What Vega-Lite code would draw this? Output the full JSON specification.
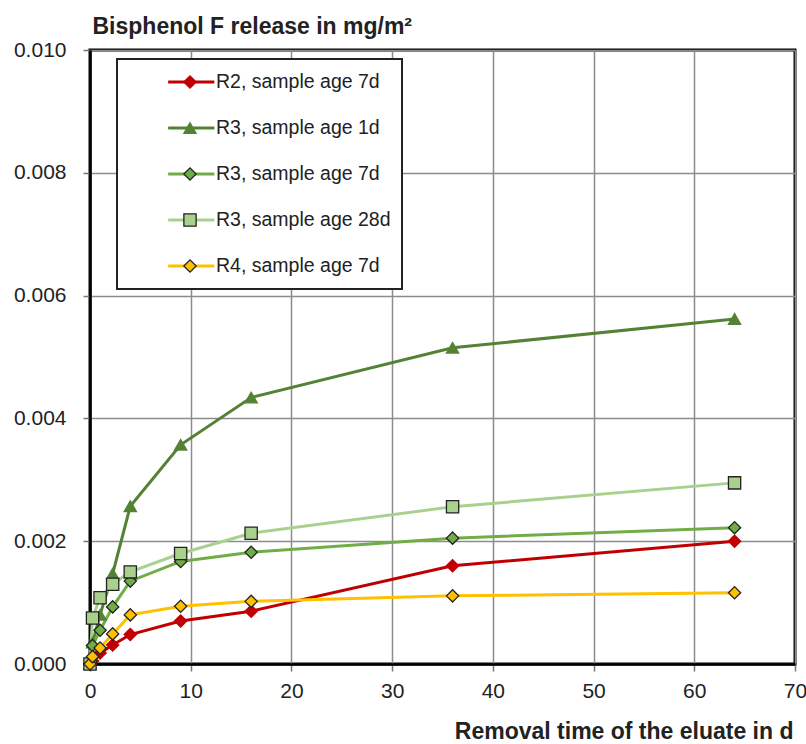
{
  "$schema": "https://vega.github.io/schema/vega-lite/v6.json",
  "width": 705,
  "height": 614,
  "autosize": {"type": "none"},
  "padding": {"left": 90, "top": 50, "right": 11, "bottom": 80},
  "background": "white",
  "config": {
    "font": "Liberation Sans",
    "view": {"stroke": "#000", "strokeWidth": 3},
    "axis": {
      "labelFont": "Liberation Sans",
      "labelFontSize": 21,
      "labelColor": "#222",
      "labelFlush": false,
      "gridColor": "#8c8c8c",
      "gridWidth": 1.5,
      "gridOpacity": 1,
      "domainColor": "#000",
      "domainWidth": 2.5,
      "tickColor": "#777",
      "tickSize": 7,
      "tickWidth": 1.5,
      "titleFont": "Liberation Sans",
      "titleFontSize": 23,
      "titleFontWeight": "bold",
      "titleColor": "#222"
    }
  },
  "data": {
    "values": [
      {"series": "R2, sample age 7d", "t": 0, "v": 0},
      {"series": "R2, sample age 7d", "t": 0.25, "v": 0.00005},
      {"series": "R2, sample age 7d", "t": 1, "v": 0.00018},
      {"series": "R2, sample age 7d", "t": 2.25, "v": 0.00031},
      {"series": "R2, sample age 7d", "t": 4, "v": 0.00048},
      {"series": "R2, sample age 7d", "t": 9, "v": 0.0007},
      {"series": "R2, sample age 7d", "t": 16, "v": 0.00086},
      {"series": "R2, sample age 7d", "t": 36, "v": 0.0016},
      {"series": "R2, sample age 7d", "t": 64, "v": 0.002},
      {"series": "R3, sample age 1d", "t": 0, "v": 0},
      {"series": "R3, sample age 1d", "t": 0.25, "v": 0.00035},
      {"series": "R3, sample age 1d", "t": 1, "v": 0.0008},
      {"series": "R3, sample age 1d", "t": 2.25, "v": 0.00147},
      {"series": "R3, sample age 1d", "t": 4, "v": 0.00257},
      {"series": "R3, sample age 1d", "t": 9, "v": 0.00357},
      {"series": "R3, sample age 1d", "t": 16, "v": 0.00434},
      {"series": "R3, sample age 1d", "t": 36, "v": 0.00515},
      {"series": "R3, sample age 1d", "t": 64, "v": 0.00562},
      {"series": "R3, sample age 7d", "t": 0, "v": 0},
      {"series": "R3, sample age 7d", "t": 0.25, "v": 0.0003},
      {"series": "R3, sample age 7d", "t": 1, "v": 0.00055},
      {"series": "R3, sample age 7d", "t": 2.25, "v": 0.00093},
      {"series": "R3, sample age 7d", "t": 4, "v": 0.00135},
      {"series": "R3, sample age 7d", "t": 9, "v": 0.00167},
      {"series": "R3, sample age 7d", "t": 16, "v": 0.00182},
      {"series": "R3, sample age 7d", "t": 36, "v": 0.00205},
      {"series": "R3, sample age 7d", "t": 64, "v": 0.00222},
      {"series": "R3, sample age 28d", "t": 0, "v": 0},
      {"series": "R3, sample age 28d", "t": 0.25, "v": 0.00075},
      {"series": "R3, sample age 28d", "t": 1, "v": 0.00108},
      {"series": "R3, sample age 28d", "t": 2.25, "v": 0.0013},
      {"series": "R3, sample age 28d", "t": 4, "v": 0.0015},
      {"series": "R3, sample age 28d", "t": 9, "v": 0.0018},
      {"series": "R3, sample age 28d", "t": 16, "v": 0.00213},
      {"series": "R3, sample age 28d", "t": 36, "v": 0.00256},
      {"series": "R3, sample age 28d", "t": 64, "v": 0.00295},
      {"series": "R4, sample age 7d", "t": 0, "v": 0},
      {"series": "R4, sample age 7d", "t": 0.25, "v": 0.00012},
      {"series": "R4, sample age 7d", "t": 1, "v": 0.00026},
      {"series": "R4, sample age 7d", "t": 2.25, "v": 0.00049},
      {"series": "R4, sample age 7d", "t": 4, "v": 0.0008},
      {"series": "R4, sample age 7d", "t": 9, "v": 0.00094},
      {"series": "R4, sample age 7d", "t": 16, "v": 0.00102},
      {"series": "R4, sample age 7d", "t": 36, "v": 0.00111},
      {"series": "R4, sample age 7d", "t": 64, "v": 0.00116}
    ]
  },
  "encoding": {
    "x": {
      "field": "t",
      "type": "quantitative",
      "scale": {"domain": [0, 70], "nice": false},
      "axis": {
        "values": [0, 10, 20, 30, 40, 50, 60, 70],
        "title": "Removal time of the eluate in d",
        "titleX": 703,
        "titleY": 74,
        "titleAlign": "right",
        "titleBaseline": "alphabetic",
        "labelPadding": 9,
        "grid": true
      }
    },
    "y": {
      "field": "v",
      "type": "quantitative",
      "scale": {"domain": [0, 0.01], "nice": false},
      "axis": {
        "values": [0, 0.002, 0.004, 0.006, 0.008, 0.01],
        "format": ".3f",
        "title": "Bisphenol F release in mg/m²",
        "titleAngle": 0,
        "titleX": 2,
        "titleY": -17,
        "titleAlign": "left",
        "titleBaseline": "alphabetic",
        "labelPadding": 17,
        "grid": true
      }
    }
  },
  "layer": [
    {
      "mark": {"type": "line", "strokeWidth": 3},
      "encoding": {
        "color": {
          "field": "series",
          "type": "nominal",
          "sort": ["R2, sample age 7d", "R3, sample age 1d", "R3, sample age 7d", "R3, sample age 28d", "R4, sample age 7d"],
          "scale": {"range": ["#c00000", "#548235", "#70ad47", "#a9d18e", "#ffc000"]},
          "legend": {
            "orient": "none",
            "legendX": 27,
            "legendY": 9,
            "direction": "vertical",
            "title": null,
            "symbolType": "M-3.3,0H3.3",
            "symbolSize": 196,
            "symbolStrokeWidth": 3,
            "symbolOffset": 53.5,
            "labelOffset": 15,
            "labelLimit": 400,
            "labelFont": "Liberation Sans",
            "labelFontSize": 19.5,
            "labelColor": "#222",
            "clipHeight": 24,
            "padding": 11,
            "rowPadding": 22,
            "fillColor": "white",
            "strokeColor": "#222",
            "zindex": 1,
            "encode": {"legend": {"update": {"strokeWidth": {"value": 2}}}}
          }
        }
      }
    },
    {
      "mark": {"type": "point", "filled": true, "size": 150, "strokeWidth": 1.3, "opacity": 1},
      "encoding": {
        "fill": {
          "field": "series",
          "type": "nominal",
          "scale": {
            "domain": ["R2, sample age 7d", "R3, sample age 1d", "R3, sample age 7d", "R3, sample age 28d", "R4, sample age 7d"],
            "range": ["#c00000", "#548235", "#70ad47", "#a9d18e", "#ffc000"]
          },
          "legend": {
            "orient": "none",
            "legendX": 27,
            "legendY": 9,
            "direction": "vertical",
            "title": null,
            "symbolSize": 150,
            "symbolStrokeWidth": 1.3,
            "symbolOffset": 55,
            "labelExpr": "''",
            "clipHeight": 24,
            "padding": 11,
            "rowPadding": 22,
            "zindex": 2
          }
        },
        "stroke": {
          "field": "series",
          "type": "nominal",
          "scale": {
            "domain": ["R2, sample age 7d", "R3, sample age 1d", "R3, sample age 7d", "R3, sample age 28d", "R4, sample age 7d"],
            "range": ["#c00000", "#548235", "#222222", "#222222", "#222222"]
          },
          "legend": {
            "orient": "none",
            "legendX": 27,
            "legendY": 9,
            "direction": "vertical",
            "title": null,
            "symbolSize": 150,
            "symbolStrokeWidth": 1.3,
            "symbolOffset": 55,
            "labelExpr": "''",
            "clipHeight": 24,
            "padding": 11,
            "rowPadding": 22,
            "zindex": 2
          }
        },
        "shape": {
          "field": "series",
          "type": "nominal",
          "scale": {
            "domain": ["R2, sample age 7d", "R3, sample age 1d", "R3, sample age 7d", "R3, sample age 28d", "R4, sample age 7d"],
            "range": ["diamond", "triangle-up", "diamond", "square", "diamond"]
          },
          "legend": {
            "orient": "none",
            "legendX": 27,
            "legendY": 9,
            "direction": "vertical",
            "title": null,
            "symbolSize": 150,
            "symbolStrokeWidth": 1.3,
            "symbolOffset": 55,
            "labelExpr": "''",
            "clipHeight": 24,
            "padding": 11,
            "rowPadding": 22,
            "zindex": 2
          }
        }
      }
    }
  ]
}
